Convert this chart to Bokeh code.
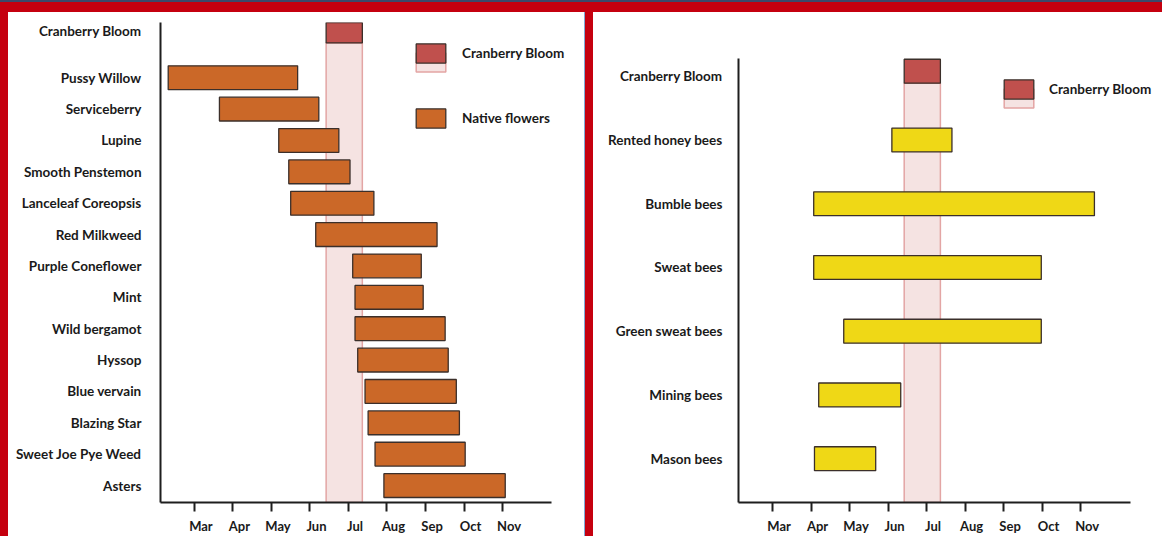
from bokeh.plotting import figure
from bokeh.models import (Range1d, FixedTicker, Legend, LegendItem, ColumnDataSource,
                          LinearAxis, Spacer)
from bokeh.layouts import row, column
from bokeh.embed import file_html
from bokeh.resources import INLINE
from bokeh.core.properties import value

# ---------------- data ----------------
months = ["Mar", "Apr", "May", "Jun", "Jul", "Aug", "Sep", "Oct", "Nov"]
month_pos = [3, 4, 5, 6, 7, 8, 9, 10, 11]

bloom_label = "Cranberry Bloom"
bloom_start = 6.42
bloom_end = 7.36

flowers = ["Pussy Willow", "Serviceberry", "Lupine", "Smooth Penstemon",
           "Lanceleaf Coreopsis", "Red Milkweed", "Purple Coneflower", "Mint",
           "Wild bergamot", "Hyssop", "Blue vervain", "Blazing Star",
           "Sweet Joe Pye Weed", "Asters"]
flower_start = [2.32, 3.65, 5.19, 5.45, 5.50, 6.15, 7.11, 7.17, 7.17, 7.24, 7.43, 7.51, 7.69, 7.92]
flower_end = [5.68, 6.23, 6.75, 7.04, 7.66, 9.30, 8.89, 8.94, 9.51, 9.59, 9.80, 9.88, 10.03, 11.07]

bees = ["Rented honey bees", "Bumble bees", "Sweat bees", "Green sweat bees",
        "Mining bees", "Mason bees"]
bee_start = [6.10, 4.07, 4.07, 4.85, 4.20, 4.09]
bee_end = [7.66, 11.36, 9.98, 9.98, 6.33, 5.68]

# ---------------- style ----------------
FONT = "Lato"
RED_BAR = "#C0504D"
PINK = "#F2DCDB"
PINK_LINE = "#E3A5A4"
ORANGE = "#CB6828"
YELLOW = "#EFD816"
EDGE = "#3B2F2A"
AXIS = "#1E1E1E"
TEXT = "#1A1A1A"
FRAME_RED = "#C5000F"
NAVY = "#3B4A6B"
LABEL_SHIFT = 0.17   # month labels sit slightly right of their tick marks


def make_fig(width, height, xr, xbounds, yr, ybounds, mbl, mbr, mbt, mbb,
             yticks, ylabels, standoff):
    p = figure(width=width, height=height, x_range=Range1d(*xr), y_range=Range1d(*yr),
               output_backend="svg", toolbar_location=None,
               min_border_left=mbl, min_border_right=mbr,
               min_border_top=mbt, min_border_bottom=mbb,
               background_fill_color="white", border_fill_color="white")
    p.grid.visible = False
    p.outline_line_color = None

    # x axis: line + tick marks (labels live on a second axis just below)
    xa = p.xaxis[0]
    xa.bounds = xbounds
    xa.axis_line_color = AXIS
    xa.axis_line_width = 2
    xa.minor_tick_line_color = None
    xa.ticker = FixedTicker(ticks=month_pos)
    xa.major_label_overrides = {m: "" for m in month_pos}
    xa.major_label_text_font_size = "0px"
    xa.major_label_standoff = 0
    xa.major_tick_in = 0
    xa.major_tick_out = 9
    xa.major_tick_line_width = 2
    xa.major_tick_line_color = AXIS

    lab_pos = [m + LABEL_SHIFT for m in month_pos]
    la = LinearAxis(ticker=FixedTicker(ticks=lab_pos),
                    major_label_overrides={t: lab for t, lab in zip(lab_pos, months)})
    la.axis_line_color = None
    la.major_tick_line_color = None
    la.minor_tick_line_color = None
    la.major_tick_in = 0
    la.major_tick_out = 0
    la.major_label_standoff = 6
    la.major_label_text_font = FONT
    la.major_label_text_font_style = "bold"
    la.major_label_text_font_size = "13px"
    la.major_label_text_color = TEXT
    p.add_layout(la, "below")

    ya = p.yaxis[0]
    ya.bounds = ybounds
    ya.axis_line_color = AXIS
    ya.axis_line_width = 2
    ya.minor_tick_line_color = None
    ya.ticker = FixedTicker(ticks=yticks)
    ya.major_label_overrides = {t: lab for t, lab in zip(yticks, ylabels)}
    ya.major_label_text_font = FONT
    ya.major_label_text_font_style = "bold"
    ya.major_label_text_font_size = "13.5px"
    ya.major_label_text_color = TEXT
    ya.major_tick_line_color = None
    ya.major_tick_in = 0
    ya.major_tick_out = 0
    ya.major_label_standoff = standoff
    return p


def add_chart(p, names, starts, ends, positions, bar_h, color, bloom_y, bloom_h,
              legend_x, legend_y, second_label, spacing, standoff):
    shade = ColumnDataSource(dict(left=[bloom_start], right=[bloom_end],
                                  bottom=[p.y_range.start], top=[bloom_y - bloom_h / 2]))
    shade_r = p.quad(left="left", right="right", bottom="bottom", top="top", source=shade,
                     fill_color=PINK, fill_alpha=0.8, line_color=PINK_LINE, line_width=1.5)
    bloom = ColumnDataSource(dict(y=[bloom_y], left=[bloom_start], right=[bloom_end]))
    bloom_r = p.hbar(y="y", left="left", right="right", height=bloom_h, source=bloom,
                     fill_color=RED_BAR, line_color=EDGE, line_width=1.3)
    src = ColumnDataSource(dict(y=positions, left=starts, right=ends, name=names))
    bars_r = p.hbar(y="y", left="left", right="right", height=bar_h, source=src,
                    fill_color=color, line_color=EDGE, line_width=1.3)

    def style(leg):
        leg.glyph_width = 37
        leg.glyph_height = 24
        leg.label_standoff = standoff
        leg.padding = 0
        leg.margin = 0
        leg.border_line_color = None
        leg.background_fill_alpha = 0
        leg.label_text_font = FONT
        leg.label_text_font_style = "bold"
        leg.label_text_font_size = "13.5px"
        leg.label_text_color = TEXT
        leg.label_height = 20

    leg_pink = Legend(items=[LegendItem(label=value(" "), renderers=[shade_r])],
                      location=(legend_x, legend_y[0]))
    style(leg_pink)
    items = [LegendItem(label=value(bloom_label), renderers=[bloom_r])]
    if second_label:
        items.append(LegendItem(label=value(second_label), renderers=[bars_r]))
    leg = Legend(items=items, location=(legend_x, legend_y[1]))
    style(leg)
    leg.spacing = spacing
    p.add_layout(leg_pink, "center")
    p.add_layout(leg, "center")


FIG_H = 524

# ---------------- left panel ----------------
left_pos = list(range(len(flowers) - 1, -1, -1))
left_bloom_pos = 14.5
p1 = make_fig(576, FIG_H, (2.12, 13.05), (2.12, 12.26), (-0.54, 14.76), (-0.54, 14.76),
              152, 3, 10, 32,
              [left_bloom_pos] + left_pos, [bloom_label] + flowers, 19)
add_chart(p1, flowers, flower_start, flower_end, left_pos, 0.76, ORANGE,
          left_bloom_pos, 0.78, 252, (428, 372), "Native flowers", 41, 13)

# ---------------- right panel ----------------
right_pos = list(range(len(bees) - 1, -1, -1))
right_bloom_pos = 6
p2 = make_fig(569, FIG_H, (2.117, 13.05), (2.117, 12.30), (-0.6875, 6.844), (-0.6875, 6.28),
              145, 3, 10, 32,
              [right_bloom_pos] + right_pos, [bloom_label] + bees, 16)
add_chart(p2, bees, bee_start, bee_end, right_pos, 0.375, YELLOW,
          right_bloom_pos + 0.08, 0.375, 262, (392, 401), None, 41, 12)

TOTAL_W = 8 + 576 + 1 + 8 + 569
layout = column(
    Spacer(width=TOTAL_W, height=2, styles={"background-color": NAVY}),
    Spacer(width=TOTAL_W, height=10, styles={"background-color": FRAME_RED}),
    row(
        Spacer(width=8, height=FIG_H, styles={"background-color": FRAME_RED}),
        p1,
        Spacer(width=1, height=FIG_H, styles={"background-color": "#7FA9D6"}),
        Spacer(width=8, height=FIG_H, styles={"background-color": FRAME_RED}),
        p2,
    ),
)

open("out.html", "w").write(file_html(layout, INLINE))
